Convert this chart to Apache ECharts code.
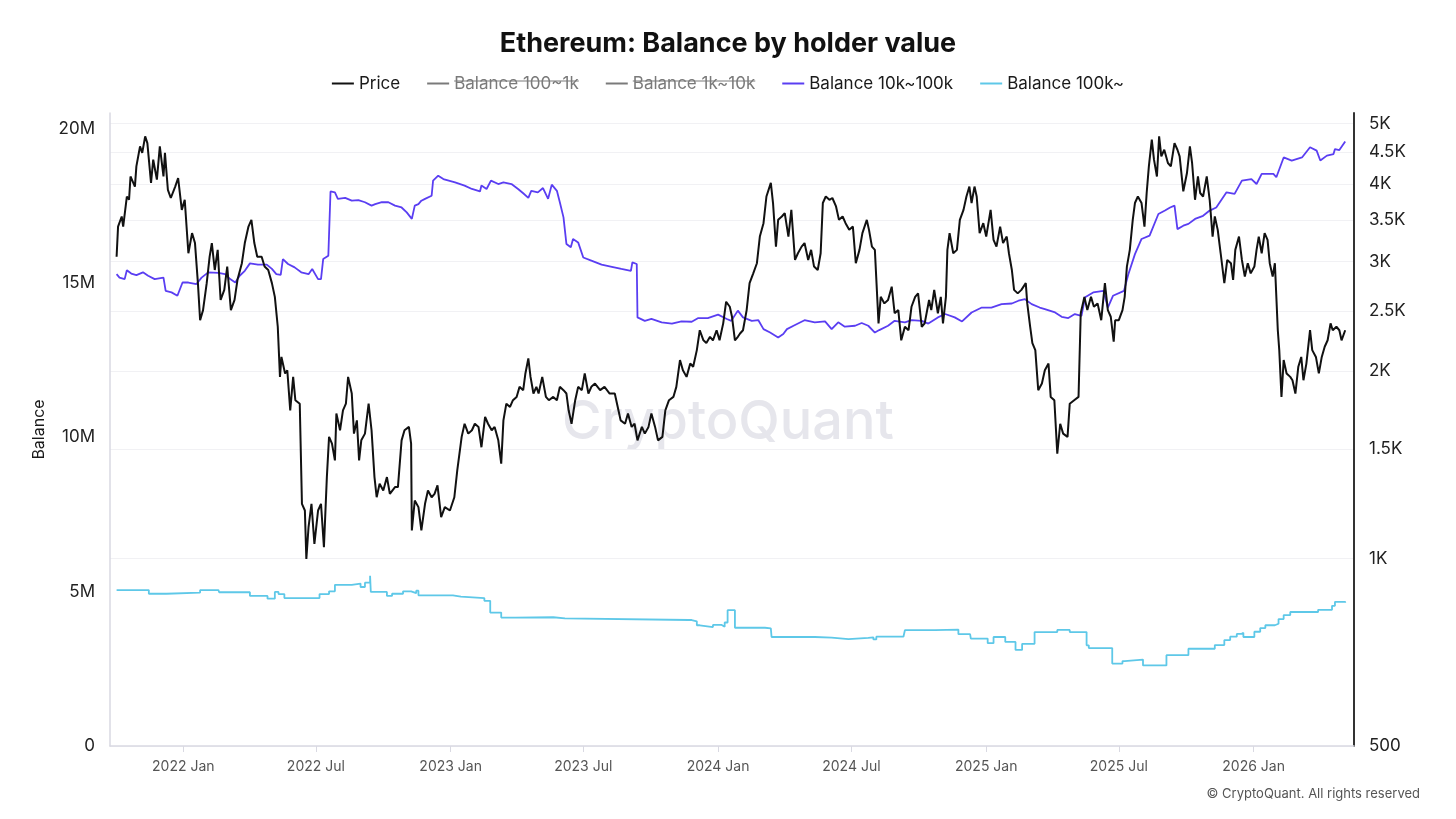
<!DOCTYPE html>
<html>
<head>
<meta charset="utf-8">
<title>Ethereum: Balance by holder value</title>
<script src="https://cdn.jsdelivr.net/npm/echarts@6/dist/echarts.min.js"></script>
<style>
  html, body { margin: 0; padding: 0; background: #fff; }
  #chart { width: 1456px; height: 819px; }
</style>
</head>
<body>
<div id="chart"></div>
<script>
// days counted from 2022-01-01
var baseDay = Date.UTC(2022, 0, 1);
var dayMs = 86400000;

// ETH price (USD), right log axis
var priceDays = [-91,-89,-84,-82,-77,-74,-72,-66,-64,-59,-56,-52,-49,-44,-41,-36,-32,-27,-25,-21,-17,-11,-7,-2,2,7,12,16,20,23,27,32,36,39,43,47,51,56,60,65,70,74,80,84,89,93,97,101,107,111,116,121,125,129,132,134,139,142,146,150,153,159,162,166,168,171,175,179,184,188,192,196,199,203,207,209,214,218,222,225,230,233,237,240,243,248,253,257,261,264,268,273,278,282,289,293,298,302,308,311,312,316,321,325,330,334,339,343,347,352,357,364,370,374,380,384,389,394,398,403,407,412,416,421,425,430,434,437,441,446,450,455,459,464,467,471,474,478,482,485,490,495,499,505,510,514,519,523,526,530,535,539,544,548,553,557,562,569,575,582,589,594,597,603,607,612,616,620,626,630,635,639,644,648,654,658,663,669,673,678,682,687,692,696,701,705,710,714,719,723,728,732,737,741,746,749,753,757,760,764,769,773,778,783,787,792,796,802,805,809,812,817,821,826,830,835,839,844,848,853,857,861,866,870,873,877,882,886,891,895,900,904,909,914,918,923,927,933,936,940,944,949,952,957,962,967,971,976,980,985,990,994,999,1003,1008,1012,1018,1021,1025,1030,1034,1037,1041,1043,1046,1051,1056,1060,1065,1069,1073,1076,1080,1083,1087,1092,1096,1102,1106,1110,1115,1119,1124,1127,1131,1134,1139,1144,1150,1152,1156,1159,1163,1167,1172,1176,1181,1184,1189,1193,1197,1201,1207,1210,1216,1222,1225,1230,1234,1239,1243,1248,1253,1258,1262,1266,1270,1272,1277,1282,1285,1288,1292,1296,1299,1303,1308,1312,1315,1318,1322,1325,1329,1332,1335,1339,1344,1348,1353,1357,1360,1365,1370,1374,1377,1381,1385,1388,1392,1397,1401,1405,1408,1412,1416,1421,1425,1430,1433,1436,1441,1445,1449,1453,1457,1462,1465,1468,1472,1476,1480,1483,1487,1490,1494,1496,1499,1502,1506,1511,1514,1518,1522,1526,1529,1533,1538,1541,1546,1550,1554,1558,1562,1566,1569,1574,1578,1581,1586];
var priceUsd = [3056,3416,3546,3416,3818,3772,4112,3961,4268,4596,4486,4770,4652,4015,4375,4064,4596,4112,4486,3914,3797,3961,4088,3634,3772,3095,3334,3214,2771,2416,2508,2771,3056,3214,2909,3134,2604,2703,2946,2508,2604,2805,2983,3214,3416,3502,3214,3056,3056,2946,2909,2771,2634,2358,1959,2109,1984,2008,1731,1959,1797,1774,1225,1195,999,1124,1225,1056,1195,1225,1043,1352,1569,1530,1438,1711,1608,1731,1774,1959,1842,1588,1668,1438,1549,1588,1774,1608,1352,1255,1319,1287,1352,1271,1303,1303,1549,1608,1628,1530,1110,1240,1210,1110,1225,1287,1255,1271,1311,1166,1210,1195,1255,1386,1569,1647,1588,1608,1647,1628,1510,1689,1647,1608,1628,1549,1421,1668,1774,1753,1797,1819,1888,1865,1984,2097,1959,1842,1888,1842,1959,1819,1797,1819,1797,1888,1865,1842,1731,1647,1797,1888,1865,1984,1842,1888,1911,1865,1888,1842,1842,1731,1668,1647,1711,1628,1647,1549,1628,1588,1628,1711,1628,1549,1569,1731,1797,1819,1888,2085,2008,1959,2058,2034,2163,2328,2243,2220,2272,2243,2328,2243,2388,2587,2539,2447,2243,2272,2300,2328,2508,2771,2873,2983,3292,3459,3818,4015,3727,3172,3502,3546,3590,3292,3634,3019,3095,3172,3214,3019,3134,2946,2909,3095,3727,3818,3772,3797,3680,3502,3546,3459,3375,3416,2983,3134,3334,3502,3375,3172,3134,2388,2634,2571,2604,2735,2479,2508,2243,2358,2328,2539,2634,2668,2358,2388,2604,2508,2703,2479,2634,2388,2634,3134,3334,3095,3134,3502,3634,3818,3961,3727,3961,3818,3334,3459,3292,3634,3252,3172,3416,3214,3292,3095,2909,2703,2668,2703,2771,2571,2358,2220,2163,1865,1911,2008,2058,1819,1797,1474,1647,1588,1569,1774,1797,1819,2479,2634,2508,2634,2539,2571,2416,2771,2508,2447,2231,2416,2416,2508,2634,2946,3134,3502,3727,3818,3727,3416,3868,4268,4712,4375,4112,4770,4430,4539,4322,4268,4652,4539,4430,3892,4165,4596,4322,3772,4112,3868,3818,4112,3772,3292,3546,3375,3095,2771,3019,2983,2805,3134,3292,3019,2839,2983,2873,2946,3134,3292,3095,3334,3252,2983,2839,2983,2328,2163,1819,2085,1984,1959,1935,1842,2034,2109,1935,2058,2328,2163,2109,1984,2109,2190,2243,2388,2328,2358,2328,2243,2328];

// Balance 10k~100k (millions)
var bal10kDays = [-91,-87,-80,-77,-71,-64,-55,-48,-39,-27,-24,-16,-8,-1,7,18,25,34,48,57,64,71,77,84,91,102,114,121,127,133,136,143,152,161,171,176,184,188,191,198,201,207,211,221,230,239,248,257,262,271,280,289,298,305,312,316,321,325,330,339,341,348,355,371,384,394,405,407,414,420,430,437,448,457,464,471,475,484,491,498,503,510,514,519,523,529,532,539,546,557,571,585,598,611,613,619,620,630,639,653,667,680,694,703,716,730,742,748,757,764,776,785,792,801,812,819,824,833,848,862,876,885,894,903,917,926,935,944,950,962,971,985,994,1008,1017,1030,1040,1053,1063,1076,1090,1103,1117,1131,1140,1149,1158,1169,1176,1190,1199,1208,1217,1226,1231,1242,1256,1262,1269,1284,1290,1299,1308,1319,1331,1340,1347,1353,1357,1365,1372,1381,1392,1401,1410,1424,1435,1445,1458,1465,1472,1488,1492,1502,1513,1527,1538,1547,1552,1561,1570,1572,1578,1586];
var bal10kM = [15.28,15.17,15.12,15.41,15.30,15.25,15.34,15.23,15.12,15.17,14.74,14.69,14.58,15.01,15.01,14.96,15.17,15.34,15.32,15.28,15.12,15.01,15.23,15.39,15.63,15.59,15.59,15.45,15.28,15.26,15.77,15.61,15.50,15.34,15.28,15.45,15.12,15.12,15.77,15.88,17.96,17.93,17.72,17.75,17.66,17.68,17.61,17.50,17.55,17.61,17.61,17.50,17.44,17.28,17.07,17.50,17.55,17.66,17.72,17.82,18.31,18.47,18.36,18.25,18.15,18.04,17.96,18.15,18.04,18.31,18.20,18.25,18.20,18.04,17.90,17.75,17.98,17.93,18.07,17.72,18.18,17.98,17.61,17.12,16.26,16.15,16.42,16.31,15.82,15.72,15.59,15.52,15.45,15.39,15.66,15.61,13.88,13.77,13.83,13.72,13.68,13.75,13.74,13.86,13.86,13.97,13.83,13.77,14.10,13.88,13.77,13.79,13.50,13.39,13.23,13.34,13.50,13.61,13.79,13.72,13.75,13.50,13.72,13.58,13.61,13.70,13.61,13.39,13.47,13.61,13.77,13.72,13.79,13.77,13.68,13.88,13.99,13.88,13.75,14.04,14.20,14.20,14.31,14.33,14.42,14.47,14.31,14.20,14.15,14.04,13.90,13.86,13.99,13.93,14.53,14.69,14.74,14.20,14.58,14.74,15.28,15.93,16.42,16.53,17.23,17.34,17.44,17.50,16.74,16.85,16.91,17.07,17.17,17.34,17.44,17.93,17.88,18.31,18.36,18.20,18.53,18.53,18.42,19.06,18.96,19.06,19.39,19.28,18.96,19.12,19.17,19.33,19.30,19.58];

// Balance 100k~ (millions), holds until next change
var bal100kDays = [-91,-47,-23,23,48,49,91,115,125,130,138,186,199,207,230,242,248,255,256,278,285,300,311,318,321,368,379,411,419,434,453,505,521,690,694,701,705,723,735,739,743,753,794,802,803,862,885,908,935,942,946,983,985,1026,1058,1074,1075,1098,1106,1122,1136,1145,1162,1193,1210,1233,1236,1268,1282,1285,1310,1342,1372,1408,1421,1429,1438,1444,1447,1462,1470,1477,1490,1495,1502,1511,1549,1568,1572,1586];
var bal100kM = [5.05,4.93,4.97,5.05,5.07,4.98,4.86,4.77,4.99,4.92,4.79,4.92,5.01,5.22,5.26,5.15,5.29,5.51,4.99,4.86,4.93,5.01,4.95,5.03,4.88,4.84,4.79,4.70,4.32,4.16,4.17,4.13,4.08,4.08,4.04,3.91,3.85,3.92,3.86,4.00,4.40,3.83,3.81,3.76,3.53,3.51,3.46,3.50,3.52,3.45,3.54,3.56,3.75,3.77,3.62,3.59,3.48,3.33,3.53,3.37,3.11,3.31,3.69,3.76,3.69,3.26,3.17,2.67,2.75,2.80,2.61,2.94,3.15,3.27,3.43,3.54,3.63,3.67,3.53,3.70,3.82,3.91,3.96,4.11,4.24,4.34,4.41,4.54,4.67,4.64];

// hidden in the reference legend, no values shown
var bal100to1k = [];
var bal1kto10k = [];

var balanceTicks = [0, 5e6, 10e6, 15e6, 20e6];
var priceTicks = [500, 1000, 1500, 2000, 2500, 3000, 3500, 4000, 4500, 5000];
var monthTicks = ['2022-01-01','2022-07-01','2023-01-01','2023-07-01','2024-01-01','2024-07-01','2025-01-01','2025-07-01','2026-01-01'];
var legendNames = ['Price', 'Balance 100~1k', 'Balance 1k~10k', 'Balance 10k~100k', 'Balance 100k~'];
var hiddenNames = ['Balance 100~1k', 'Balance 1k~10k'];

function pairs(days, vals, mult) {
  var out = [];
  for (var i = 0; i < days.length; i++) {
    out.push([baseDay + days[i] * dayMs, vals[i] * mult]);
  }
  return out;
}

var timeTicks = monthTicks.map(function (s) {
  var p = s.split('-');
  return Date.UTC(+p[0], +p[1] - 1, +p[2]);
});

var W = 1456;
var font = 'Inter, "Noto Sans", sans-serif';
var legendFont = 17, legendIconW = 22, legendGap = 27, legendTop = 70;

// strike-through for the switched-off legend items, laid out like the legend
var ctx = document.createElement('canvas').getContext('2d');
ctx.font = legendFont + 'px ' + font;
var widths = legendNames.map(function (n) { return ctx.measureText(n).width; });
var total = 0;
widths.forEach(function (w, i) { total += legendIconW + 5 + w + (i ? legendGap : 0); });
var cursor = (W - total) / 2;
var strikes = [];
legendNames.forEach(function (n, i) {
  var tx = cursor + legendIconW + 5;
  if (hiddenNames.indexOf(n) >= 0) {
    strikes.push({
      type: 'line', z: 100, silent: true,
      shape: { x1: tx, y1: legendTop + 11, x2: tx + widths[i], y2: legendTop + 11 },
      style: { stroke: '#7a7a7a', lineWidth: 1.2 }
    });
  }
  cursor = tx + widths[i] + legendGap;
});

var chart = echarts.init(document.getElementById('chart'));

var option = {
  backgroundColor: '#fff',
  animation: false,
  title: {
    text: 'Ethereum: Balance by holder value',
    left: 'center',
    top: 25,
    textStyle: { fontSize: 27, fontWeight: 'bold', color: '#111', fontFamily: font }
  },
  legend: {
    top: legendTop,
    left: 'center',
    icon: 'rect',
    itemWidth: legendIconW,
    itemHeight: 2,
    itemGap: legendGap,
    inactiveColor: '#7a7a7a',
    textStyle: { fontSize: legendFont, color: '#1a1a1a', fontFamily: font },
    data: legendNames,
    selected: { 'Balance 100~1k': false, 'Balance 1k~10k': false }
  },
  grid: { left: 110, right: 102, top: 113, bottom: 73 },
  // dates as ms on a plain value axis so half-year ticks can be pinned
  xAxis: {
    type: 'value',
    min: baseDay - 100 * dayMs,
    max: baseDay + 1598 * dayMs,
    axisLine: { lineStyle: { color: '#d9d9e2', width: 1.5 } },
    axisTick: { show: true, length: 6, lineStyle: { color: '#d9d9e2' }, customValues: timeTicks },
    axisLabel: {
      customValues: timeTicks,
      margin: 14,
      fontSize: 14,
      color: '#555',
      fontFamily: font,
      formatter: function (v) {
        var d = new Date(v);
        return d.getUTCFullYear() + ' ' + (d.getUTCMonth() === 0 ? 'Jan' : 'Jul');
      }
    },
    splitLine: { show: false }
  },
  yAxis: [
    {
      type: 'value',
      name: 'Balance',
      nameLocation: 'middle',
      nameGap: 55,
      nameTextStyle: { fontSize: 16, color: '#1a1a1a', fontFamily: font },
      min: 0,
      max: 20.5e6,
      axisLine: { show: true, lineStyle: { color: '#d9d9e2', width: 1.5 } },
      axisTick: { show: false },
      axisLabel: {
        customValues: balanceTicks,
        margin: 15,
        fontSize: 17,
        color: '#222',
        fontFamily: font,
        formatter: function (v) { return v === 0 ? '0' : (v / 1e6) + 'M'; }
      },
      splitLine: { show: false }
    },
    {
      type: 'log',
      logBase: 10,
      min: 500,
      max: 5200,
      position: 'right',
      axisLine: { show: true, lineStyle: { color: '#333', width: 2 } },
      axisTick: { show: false, customValues: priceTicks },
      axisLabel: {
        customValues: priceTicks,
        margin: 15,
        fontSize: 17,
        color: '#222',
        fontFamily: font,
        formatter: function (v) { return v < 1000 ? String(v) : (v / 1000) + 'K'; }
      },
      splitLine: { show: true, lineStyle: { color: '#f1f1f4', width: 1 } }
    }
  ],
  graphic: [
    {
      type: 'text',
      left: 'center',
      top: 396,
      z: 0,
      silent: true,
      style: { text: 'CryptoQuant', fontSize: 54, fontWeight: 500, fill: '#e6e6ec', fontFamily: font }
    },
    {
      type: 'text',
      right: 36,
      bottom: 18,
      style: { text: '\u00a9 CryptoQuant. All rights reserved', fontSize: 13, fill: '#555', fontFamily: font }
    }
  ].concat(strikes),
  series: [
    {
      name: 'Price',
      type: 'line',
      yAxisIndex: 1,
      symbol: 'none',
      z: 4,
      color: '#111',
      lineStyle: { width: 2, color: '#111' },
      data: pairs(priceDays, priceUsd, 1)
    },
    {
      name: 'Balance 100~1k',
      type: 'line',
      symbol: 'none',
      color: '#888',
      data: bal100to1k
    },
    {
      name: 'Balance 1k~10k',
      type: 'line',
      symbol: 'none',
      color: '#888',
      data: bal1kto10k
    },
    {
      name: 'Balance 10k~100k',
      type: 'line',
      symbol: 'none',
      z: 3,
      color: '#5a3ef2',
      lineStyle: { width: 1.8, color: '#5a3ef2' },
      data: pairs(bal10kDays, bal10kM, 1e6)
    },
    {
      name: 'Balance 100k~',
      type: 'line',
      symbol: 'none',
      step: 'end',
      z: 3,
      color: '#5ec8e8',
      lineStyle: { width: 1.8, color: '#5ec8e8' },
      data: pairs(bal100kDays, bal100kM, 1e6)
    }
  ]
};

chart.setOption(option);
</script>
</body>
</html>
